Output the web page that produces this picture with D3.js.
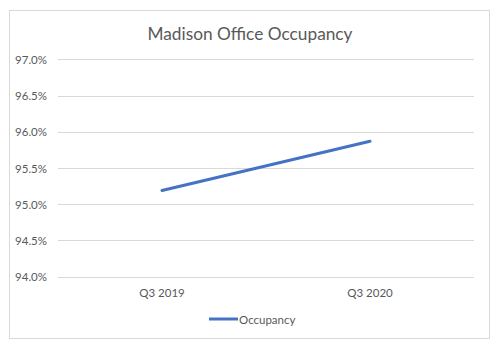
<!DOCTYPE html>
<html>
<head>
<meta charset="utf-8">
<script src="https://cdn.jsdelivr.net/npm/d3@7"></script>
<style>
  body { margin: 0; background: #fff; }
  svg text { font-family: Lato, "Open Sans", sans-serif; fill: #595959; }
</style>
</head>
<body>
<div id="chart"></div>
<script>
// Data
var categories = ["Q3 2019", "Q3 2020"];
var occupancy = [0.9519, 0.9587];
var yTicks = [0.94, 0.945, 0.95, 0.955, 0.96, 0.965, 0.97];
var seriesName = "Occupancy";
var title = "Madison Office Occupancy";

var W = 503, H = 353;
var plot = { left: 58, right: 474, top: 59.3, bottom: 276.7 };

var svg = d3.select("#chart").append("svg")
  .attr("width", W)
  .attr("height", H);

// Chart border
svg.append("rect")
  .attr("x", 9.5).attr("y", 10.5)
  .attr("width", 480).attr("height", 328)
  .attr("fill", "#fff")
  .attr("stroke", "#d9d9d9");

// Title
svg.append("text")
  .attr("x", 250).attr("y", 33)
  .attr("text-anchor", "middle")
  .attr("dominant-baseline", "central")
  .style("font-size", "17.3px")
  .text(title);

var x = d3.scaleBand()
  .domain(categories)
  .range([plot.left, plot.right]);

var y = d3.scaleLinear()
  .domain([0.94, 0.97])
  .range([plot.bottom, plot.top]);

// Gridlines
svg.append("g")
  .selectAll("line")
  .data(yTicks)
  .join("line")
  .attr("x1", plot.left).attr("x2", plot.right)
  .attr("y1", function (d) { return Math.round(y(d)) + 0.5; })
  .attr("y2", function (d) { return Math.round(y(d)) + 0.5; })
  .attr("stroke", "#d9d9d9")
  .attr("stroke-width", 1);

// Y axis labels
var fmt = d3.format(".1%");
svg.append("g")
  .selectAll("text")
  .data(yTicks)
  .join("text")
  .attr("x", 47)
  .attr("y", function (d) { return y(d); })
  .attr("text-anchor", "end")
  .attr("dominant-baseline", "central")
  .style("font-size", "11.5px")
  .text(function (d) { return fmt(d); });

// X axis labels
svg.append("g")
  .selectAll("text")
  .data(categories)
  .join("text")
  .attr("x", function (d) { return x(d) + x.bandwidth() / 2; })
  .attr("y", 292)
  .attr("text-anchor", "middle")
  .attr("dominant-baseline", "central")
  .style("font-size", "11.5px")
  .text(function (d) { return d; });

// Line
var line = d3.line()
  .x(function (d, i) { return x(categories[i]) + x.bandwidth() / 2; })
  .y(function (d) { return y(d); });

svg.append("path")
  .datum(occupancy)
  .attr("fill", "none")
  .attr("stroke", "#4472c4")
  .attr("stroke-width", 3)
  .attr("stroke-linecap", "round")
  .attr("d", line);

// Legend
var legend = svg.append("g").attr("transform", "translate(209,319)");
legend.append("line")
  .attr("x1", 0).attr("x2", 29)
  .attr("stroke", "#4472c4")
  .attr("stroke-width", 3);
legend.append("text")
  .attr("x", 30)
  .attr("dominant-baseline", "central")
  .style("font-size", "11.5px")
  .text(seriesName);
</script>
</body>
</html>
